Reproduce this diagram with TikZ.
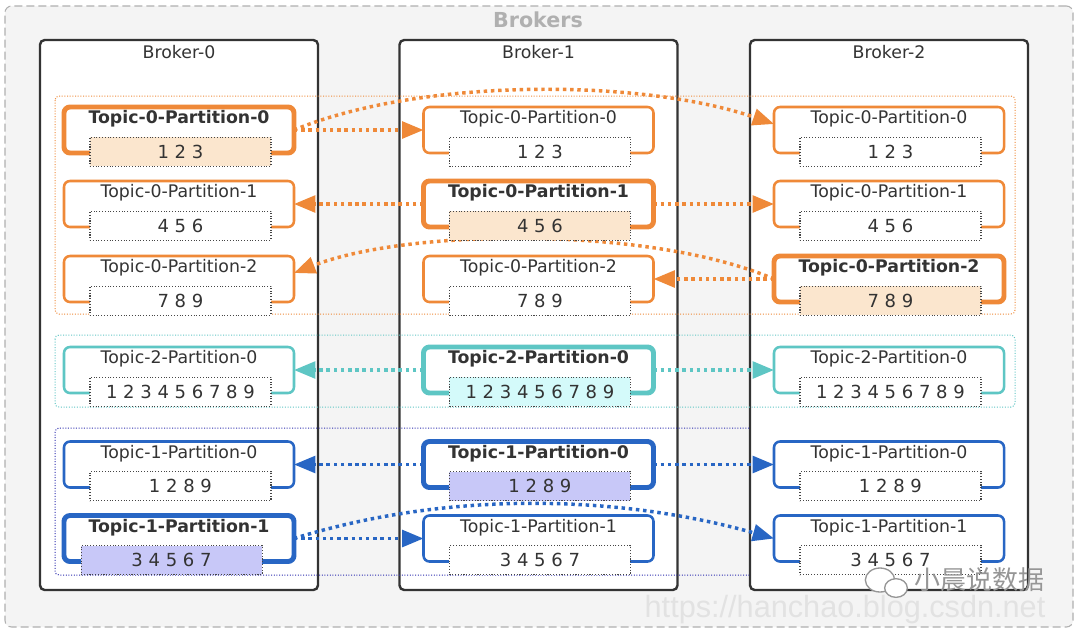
\documentclass[tikz,border=0pt]{standalone}
\usepackage{fontspec}
\setmainfont{DejaVu Sans}
\newfontfamily\cjkfont{Noto Sans CJK SC}
\newfontfamily\urlfont{Liberation Sans}
\usetikzlibrary{arrows.meta}
\definecolor{orangeC}{RGB}{239,137,56}
\definecolor{cyanC}{RGB}{94,198,196}
\definecolor{blueC}{RGB}{40,102,196}
\definecolor{navyC}{RGB}{45,45,175}
\definecolor{peachF}{RGB}{251,230,206}
\definecolor{cyanF}{RGB}{212,250,250}
\definecolor{lavF}{RGB}{200,200,248}
\definecolor{brokerC}{RGB}{51,51,51}
\definecolor{txt}{RGB}{51,51,51}
\definecolor{numgray}{RGB}{70,70,70}
\definecolor{bgC}{RGB}{244,244,244}
\definecolor{dashC}{RGB}{176,176,176}
\definecolor{wmC}{RGB}{150,150,150}
\definecolor{urlC}{RGB}{226,226,226}
\pgfdeclarelayer{back}
\pgfdeclarelayer{mid}
\pgfsetlayers{back,mid,main}
\newcommand\Part[8]{%
  \node[#3] (#1) at (#2) {};
  \node[#4] (#1-t) at ([yshift=-9pt]#1.north) {#6};
  \node[#5] (#1-n) at ([xshift=#8,yshift=-33.4pt]#1.north) {#7};
}
\begin{document}
\begin{tikzpicture}[x=0.75pt,y=-0.75pt,
  outerbox/.style={draw=dashC, fill=bgC, line width=0.8pt, dash pattern=on 6pt off 3pt, rounded corners=5pt, minimum width=801pt, minimum height=465.75pt, inner sep=0pt, outer sep=0pt},
  bigtitle/.style={text=dashC, font=\fontsize{15.5}{17}\selectfont\bfseries, inner sep=0pt},
  broker/.style={draw=brokerC, fill=white, line width=1.8pt, rounded corners=3.5pt, minimum width=208.5pt, minimum height=412.5pt, inner sep=0pt, outer sep=0pt},
  btitle/.style={text=txt, font=\fontsize{13}{15}\selectfont, inner sep=0pt},
  grp/.style={line width=0.75pt, dash pattern=on 0.75pt off 1.25pt, rounded corners=3pt},
  pbox/.style={draw, rounded corners=4.5pt, fill=white, minimum width=172.5pt, minimum height=34.5pt, inner sep=0pt, outer sep=0pt},
  pn/.style={pbox, line width=1.9pt},
  pl/.style={pbox, line width=3.7pt},
  ptitle/.style={text=txt, font=\fontsize{13}{15}\selectfont, inner sep=0pt},
  ptitleb/.style={text=txt, font=\fontsize{13}{15}\selectfont\bfseries, inner sep=0pt},
  pnum/.style={draw=numgray, line width=0.8pt, dash pattern=on 0.8pt off 1.3pt, fill=white, minimum width=135.75pt, minimum height=21.75pt, inner sep=0pt, outer sep=0pt, text=txt, font=\fontsize{13.5}{15}\selectfont},
  arr/.style={line width=2.6pt, dash pattern=on 2.6pt off 2.8pt, -{Triangle[length=16pt,width=12.5pt]}},
]
\useasboundingbox (0,0) rectangle (1080,633);
\begin{pgfonlayer}{back}
  \fill[white] (0,0) rectangle (1080,633);
  \node[outerbox] (brokers) at (539,316.5) {};
  \node[bigtitle] (brokers-t) at (538,20) {Brokers};
  \node[broker] (br0) at (179,315) {};
  \node[broker] (br1) at (538.5,315) {};
  \node[broker] (br2) at (889,315) {};
  \node[btitle] (br0-t) at ([yshift=-9pt]br0.north) {Broker-0};
  \node[btitle] (br1-t) at ([yshift=-9pt]br1.north) {Broker-1};
  \node[btitle] (br2-t) at ([yshift=-9pt]br2.north) {Broker-2};
  \draw[grp, draw=orangeC] (55,96) rectangle (1015,314);
  \draw[grp, draw=cyanC] (55,335) rectangle (1015,407);
  \draw[grp, draw=navyC] (749,428) -- (55,428) -- (55,575) -- (749,575);
\end{pgfonlayer}

% Topic-0
\Part{b0a}{179,130}{pl,draw=orangeC}{ptitleb}{pnum,fill=peachF}{Topic-0-Partition-0}{1 2 3}{1.1pt}
\Part{b1a}{538.5,130}{pn,draw=orangeC}{ptitle}{pnum}{Topic-0-Partition-0}{1 2 3}{1.1pt}
\Part{b2a}{889,130}{pn,draw=orangeC}{ptitle}{pnum}{Topic-0-Partition-0}{1 2 3}{1.1pt}
\Part{b0b}{179,204}{pn,draw=orangeC}{ptitle}{pnum}{Topic-0-Partition-1}{4 5 6}{1.1pt}
\Part{b1b}{538.5,204}{pl,draw=orangeC}{ptitleb}{pnum,fill=peachF}{Topic-0-Partition-1}{4 5 6}{1.1pt}
\Part{b2b}{889,204}{pn,draw=orangeC}{ptitle}{pnum}{Topic-0-Partition-1}{4 5 6}{1.1pt}
\Part{b0c}{179,279}{pn,draw=orangeC}{ptitle}{pnum}{Topic-0-Partition-2}{7 8 9}{1.1pt}
\Part{b1c}{538.5,279}{pn,draw=orangeC}{ptitle}{pnum}{Topic-0-Partition-2}{7 8 9}{1.1pt}
\Part{b2c}{889,279}{pl,draw=orangeC}{ptitleb}{pnum,fill=peachF}{Topic-0-Partition-2}{7 8 9}{1.1pt}
% Topic-2
\Part{b0d}{179,370}{pn,draw=cyanC}{ptitle}{pnum}{Topic-2-Partition-0}{1 2 3 4 5 6 7 8 9}{1.1pt}
\Part{b1d}{538.5,370}{pl,draw=cyanC}{ptitleb}{pnum,fill=cyanF}{Topic-2-Partition-0}{1 2 3 4 5 6 7 8 9}{1.1pt}
\Part{b2d}{889,370}{pn,draw=cyanC}{ptitle}{pnum}{Topic-2-Partition-0}{1 2 3 4 5 6 7 8 9}{1.1pt}
% Topic-1
\Part{b0e}{179,464.5}{pn,draw=blueC}{ptitle}{pnum}{Topic-1-Partition-0}{1 2 8 9}{1.1pt}
\Part{b1e}{538.5,464.5}{pl,draw=blueC}{ptitleb}{pnum,fill=lavF}{Topic-1-Partition-0}{1 2 8 9}{1.1pt}
\Part{b2e}{889,464.5}{pn,draw=blueC}{ptitle}{pnum}{Topic-1-Partition-0}{1 2 8 9}{1.1pt}
\Part{b0f}{179,538.5}{pl,draw=blueC}{ptitleb}{pnum,fill=lavF}{Topic-1-Partition-1}{3 4 5 6 7}{-5.6pt}
\Part{b1f}{538.5,538.5}{pn,draw=blueC}{ptitle}{pnum}{Topic-1-Partition-1}{3 4 5 6 7}{1.1pt}
\Part{b2f}{889,538.5}{pn,draw=blueC}{ptitle}{pnum}{Topic-1-Partition-1}{3 4 5 6 7}{1.1pt}

\begin{pgfonlayer}{mid}
  % Topic-0 replication
  \draw[arr, orangeC] (b0a.east) -- (b1a.west);
  \draw[arr, orangeC] (b0a.east) .. controls (420,78) and (640,78) .. (b2a.177);
  \draw[arr, orangeC] (b1b.west) -- (b0b.east);
  \draw[arr, orangeC] (b1b.east) -- (b2b.west);
  \draw[arr, orangeC] (b2c.west) -- (b1c.east);
  \draw[arr, orangeC] (b2c.west) .. controls (650,226) and (410,228) .. (b0c.3);
  % Topic-2 replication
  \draw[arr, cyanC] (b1d.west) -- (b0d.east);
  \draw[arr, cyanC] (b1d.east) -- (b2d.west);
  % Topic-1 replication
  \draw[arr, blueC] (b1e.west) -- (b0e.east);
  \draw[arr, blueC] (b1e.east) -- (b2e.west);
  \draw[arr, blueC] (b0f.east) -- (b1f.west);
  \draw[arr, blueC] (b0f.east) .. controls (450,490) and (620,495) .. (b2f.west);
\end{pgfonlayer}

% watermark
\draw[wmC, line width=1pt, fill=white] (880,580) ellipse (11pt and 9pt);
\draw[wmC, line width=1pt, fill=white] (896,588) ellipse (8.5pt and 7pt);
\node[text=wmC, font=\cjkfont\fontsize{19.5}{21}\selectfont, inner sep=0pt] (wm) at (979,580) {小晨说数据};
\node[text=urlC, font=\urlfont\fontsize{23}{25}\selectfont, inner sep=0pt] (url) at (845,610) {https://hanchao.blog.csdn.net};
\end{tikzpicture}
\end{document}
